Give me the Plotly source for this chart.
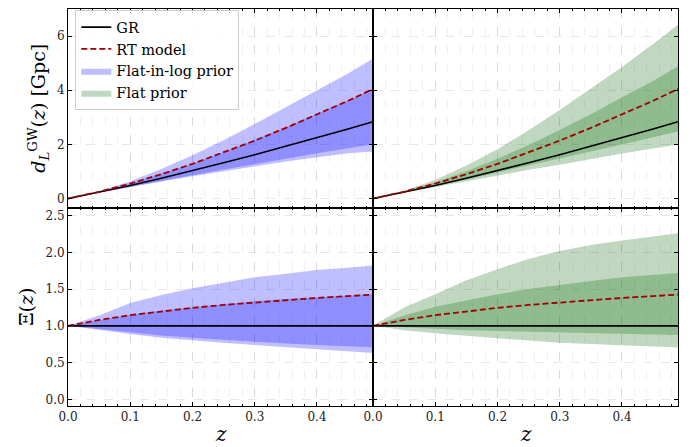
import plotly.graph_objects as go
from plotly.subplots import make_subplots

# ---------------- data ----------------
z = [0.0, 0.05, 0.10, 0.15, 0.20, 0.25, 0.30, 0.35, 0.40, 0.45, 0.49]

dl_gr = [0.0, 0.23, 0.48, 0.75, 1.03, 1.32, 1.62, 1.93, 2.25, 2.57, 2.84]
dl_rt = [0.0, 0.25, 0.55, 0.90, 1.28, 1.70, 2.14, 2.61, 3.11, 3.61, 4.05]

xi_gr = [1.0, 1.0, 1.0, 1.0, 1.0, 1.0, 1.0, 1.0, 1.0, 1.0, 1.0]
xi_rt = [1.0, 1.08, 1.145, 1.20, 1.245, 1.285, 1.32, 1.35, 1.38, 1.405, 1.425]

# Flat-in-log prior (left column)
log_dl_outer_hi = [0.0, 0.26, 0.64, 1.09, 1.60, 2.15, 2.75, 3.37, 4.02, 4.62, 5.17]
log_dl_inner_hi = [0.0, 0.25, 0.555, 0.91, 1.29, 1.72, 2.16, 2.63, 3.13, 3.62, 4.06]
log_dl_inner_lo = [0.0, 0.22, 0.44, 0.65, 0.865, 1.07, 1.26, 1.47, 1.67, 1.86, 2.01]
log_dl_outer_lo = [0.0, 0.215, 0.425, 0.63, 0.82, 1.01, 1.19, 1.37, 1.53, 1.67, 1.74]

log_xi_outer_hi = [1.0, 1.14, 1.31, 1.42, 1.51, 1.59, 1.66, 1.71, 1.76, 1.79, 1.82]
log_xi_inner_hi = [1.0, 1.08, 1.15, 1.21, 1.255, 1.30, 1.335, 1.365, 1.39, 1.41, 1.43]
log_xi_inner_lo = [1.0, 0.955, 0.91, 0.87, 0.84, 0.81, 0.78, 0.76, 0.74, 0.725, 0.71]
log_xi_outer_lo = [1.0, 0.94, 0.89, 0.84, 0.80, 0.77, 0.74, 0.71, 0.68, 0.65, 0.63]

# Flat prior (right column)
flat_dl_outer_hi = [0.0, 0.29, 0.69, 1.22, 1.82, 2.52, 3.27, 4.05, 4.86, 5.71, 6.42]
flat_dl_inner_hi = [0.0, 0.26, 0.60, 1.01, 1.47, 1.98, 2.53, 3.11, 3.74, 4.34, 4.89]
flat_dl_inner_lo = [0.0, 0.225, 0.46, 0.705, 0.96, 1.21, 1.47, 1.74, 2.00, 2.26, 2.48]
flat_dl_outer_lo = [0.0, 0.215, 0.43, 0.645, 0.85, 1.06, 1.25, 1.46, 1.665, 1.85, 2.0]

flat_xi_outer_hi = [1.0, 1.25, 1.43, 1.62, 1.77, 1.91, 2.02, 2.10, 2.16, 2.22, 2.26]
flat_xi_inner_hi = [1.0, 1.14, 1.26, 1.35, 1.43, 1.50, 1.56, 1.61, 1.66, 1.69, 1.72]
flat_xi_inner_lo = [1.0, 0.98, 0.955, 0.94, 0.93, 0.92, 0.91, 0.90, 0.89, 0.88, 0.875]
flat_xi_outer_lo = [1.0, 0.94, 0.90, 0.86, 0.83, 0.80, 0.77, 0.755, 0.74, 0.72, 0.705]

x_ticks = [0.0, 0.1, 0.2, 0.3, 0.4]
dl_ticks = [0, 2, 4, 6]
xi_ticks = [0.0, 0.5, 1.0, 1.5, 2.0, 2.5]

# ---------------- styles ----------------
BLUE = "rgba(0,0,255,0.25)"
GREEN = "rgba(0,100,0,0.25)"
FONT = "DejaVu Serif"

fig = make_subplots(rows=2, cols=2, horizontal_spacing=0, vertical_spacing=0)


def add_band(row, col, lo, hi, color, name=None, show=False, rank=1000):
    fig.add_trace(go.Scatter(x=z, y=lo, mode="lines", line=dict(width=0, color=color),
                             showlegend=False, hoverinfo="skip"), row=row, col=col)
    fig.add_trace(go.Scatter(x=z, y=hi, mode="lines", line=dict(width=0, color=color),
                             fill="tonexty", fillcolor=color, name=name,
                             showlegend=show, legendrank=rank,
                             hoverinfo="skip"), row=row, col=col)


# left column: flat-in-log
add_band(1, 1, log_dl_outer_lo, log_dl_outer_hi, BLUE, "Flat-in-log prior", True, 3)
add_band(1, 1, log_dl_inner_lo, log_dl_inner_hi, BLUE)
add_band(2, 1, log_xi_outer_lo, log_xi_outer_hi, BLUE)
add_band(2, 1, log_xi_inner_lo, log_xi_inner_hi, BLUE)
# right column: flat
add_band(1, 2, flat_dl_outer_lo, flat_dl_outer_hi, GREEN, "Flat prior", True, 4)
add_band(1, 2, flat_dl_inner_lo, flat_dl_inner_hi, GREEN)
add_band(2, 2, flat_xi_outer_lo, flat_xi_outer_hi, GREEN)
add_band(2, 2, flat_xi_inner_lo, flat_xi_inner_hi, GREEN)

first = True
for col in (1, 2):
    for row, gr, rt in ((1, dl_gr, dl_rt), (2, xi_gr, xi_rt)):
        fig.add_trace(go.Scatter(x=z, y=gr, mode="lines", name="GR",
                                 line=dict(color="black", width=1.6),
                                 showlegend=first, legendrank=1), row=row, col=col)
        fig.add_trace(go.Scatter(x=z, y=rt, mode="lines", name="RT model",
                                 line=dict(color="#a00000", width=1.8, dash="6px,3px"),
                                 showlegend=first, legendrank=2), row=row, col=col)
        first = False

grid = "rgba(0,0,0,0.09)"
mgrid = "rgba(0,0,0,0.06)"
for row in (1, 2):
    for col in (1, 2):
        fig.update_xaxes(range=[0, 0.49], tickvals=x_ticks, tickformat=".1f",
                         showticklabels=(row == 2), ticks="inside", ticklen=4,
                         tickcolor="black", mirror="allticks", showline=True,
                         linecolor="black", linewidth=1, showgrid=True,
                         gridcolor=grid, griddash="dash", gridwidth=1,
                         zeroline=False, automargin=False,
                         minor=dict(dtick=0.02, ticks="inside", ticklen=2,
                                    tickcolor="black", showgrid=True,
                                    gridcolor=mgrid, griddash="dash"),
                         tickfont=dict(family=FONT, size=12, color="#222"),
                         row=row, col=col)
        yk = dict(ticks="inside", ticklen=4, tickcolor="black", mirror="allticks",
                  showline=True, linecolor="black", linewidth=1, showgrid=True,
                  gridcolor=grid, griddash="dash", zeroline=False, automargin=False,
                  showticklabels=(col == 1),
                  tickfont=dict(family=FONT, size=12, color="#222"))
        if row == 1:
            fig.update_yaxes(range=[-0.33, 7.0], tickvals=dl_ticks, row=row, col=col, **yk)
        else:
            fig.update_yaxes(range=[-0.09, 2.61], tickvals=xi_ticks, tickformat=".1f",
                             row=row, col=col, **yk)

fig.update_yaxes(title=dict(text="<i>d</i><sub><i>L</i></sub><sup>GW</sup>(<i>z</i>) [Gpc]",
                            font=dict(family=FONT, size=19), standoff=6), row=1, col=1)
fig.update_yaxes(title=dict(text="Ξ(<i>z</i>)", font=dict(family=FONT, size=19), standoff=6),
                 row=2, col=1)

for xc in (0.25, 0.75):
    fig.add_annotation(text="<i>z</i>", x=xc, y=-28 / 397, xref="paper", yref="paper",
                       xanchor="center", yanchor="middle", showarrow=False,
                       font=dict(family=FONT, size=20, color="black"))

fig.update_layout(
    width=690, height=447,
    margin=dict(l=68, r=12, t=9, b=41, autoexpand=False),
    plot_bgcolor="white", paper_bgcolor="white",
    font=dict(family=FONT, color="black"),
    legend=dict(x=0.012, y=0.997, xanchor="left", yanchor="top", traceorder="normal",
                bgcolor="rgba(255,255,255,0.85)", bordercolor="#cccccc", borderwidth=1,
                font=dict(family=FONT, size=14.5), tracegroupgap=0, itemwidth=30),
)

fig.write_html("out.html", config={"displayModeBar": False},
               post_script="document.body.style.margin='0px';document.body.style.overflow='hidden';")
